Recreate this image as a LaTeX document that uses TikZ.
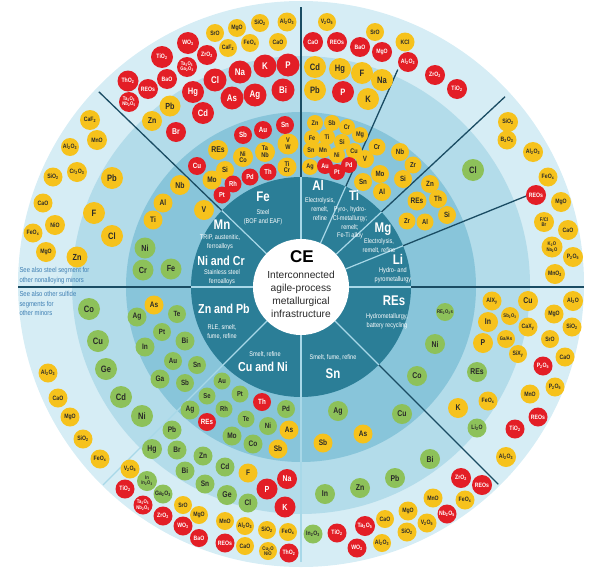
\documentclass[tikz,border=0pt]{standalone}
\usepackage{fontspec}
\setmainfont{Liberation Sans}
\newfontfamily\narrowsf{Liberation Sans}[FakeStretch=0.82]
\usetikzlibrary{positioning}

\definecolor{gold}{HTML}{F6C21C}
\definecolor{crimson}{HTML}{E31E26}
\definecolor{leaf}{HTML}{8DC15A}
\definecolor{ink}{HTML}{2A2A2A}
\definecolor{bandout}{HTML}{D6EDF5}
\definecolor{bandlight}{HTML}{B3DCEA}
\definecolor{bandmid}{HTML}{88C5DA}
\definecolor{procring}{HTML}{2B7E97}
\definecolor{navy}{HTML}{1A4C63}
\definecolor{sky}{HTML}{A8D8E8}
\definecolor{seeblue}{HTML}{3E7FB3}

\newcommand\dn[1]{\textsubscript{#1}}

\begin{document}
\begin{tikzpicture}[x=1pt, y=-1pt,
    elem/.style={circle, inner sep=0pt, minimum size=#1pt},
    ylw/.style={elem=#1, fill=gold, text=ink},
    rdc/.style={elem=#1, fill=crimson, text=white},
    grn/.style={elem=#1, fill=leaf, text=ink},
    oxfont/.style={font=\narrowsf\bfseries\fontsize{6.3}{6.3}\selectfont},
    smalltxt/.style={font=\narrowsf\bfseries\fontsize{5.2}{5.2}\selectfont},
    twin/.style={align=center, font=\narrowsf\bfseries\fontsize{5.2}{5.4}\selectfont},
    twinbig/.style={align=center, font=\narrowsf\bfseries\fontsize{6.8}{6.8}\selectfont},
    proc/.style={text=white, font=\narrowsf\bfseries\fontsize{14}{14}\selectfont},
    procpair/.style={text=white, font=\narrowsf\bfseries\fontsize{13}{13}\selectfont},
    procnote/.style={text=white, align=center, font=\narrowsf\fontsize{6.8}{8.6}\selectfont},
    raydark/.style={draw=navy, line width=1.3pt},
    raylight/.style={draw=sky, line width=1.2pt},
    seealso/.style={text=seeblue, align=left, anchor=north west,
      font=\narrowsf\fontsize{7.2}{9.3}\selectfont}]
  \useasboundingbox (0,0) rectangle (602,570);
  \coordinate (C) at (301,287);

  % rings
  \fill[bandout] (301,284) circle[radius=283];
  \fill[bandlight] (301,285) circle[radius=229];
  \fill[bandmid] (C) circle[radius=175];
  \fill[procring] (C) circle[radius=110];

  % segment borders
  \begin{scope}[shift={(C)}]
    \foreach \a/\r in {90/280, 136/281, 180/283, 0/283, 43/279, 66/238, 22/243, 315/279}
      \draw[raydark] (-\a:110) -- (-\a:\r);
    \foreach \a/\r in {225/280, 270/275}
      \draw[raylight] (-\a:110) -- (-\a:\r);
    \foreach \a in {0, 22, 43, 66, 90, 136, 180, 225, 270, 315}
      \draw[raylight] (-\a:48) -- (-\a:110);
  \end{scope}

  % centre
  \node[circle, fill=white, minimum size=96pt, inner sep=0pt] (ce) at (C) {};
  \node[font=\bfseries\fontsize{17}{17}\selectfont, text=black] (cetitle) at (302,257) {CE};
  \node[align=center, text=ink, font=\fontsize{10.2}{13}\selectfont] (cetext) at (301,294)
    {Interconnected\\agile-process\\metallurgical\\infrastructure};

  % processes
  \node[proc] (fe) at (263,197) {Fe};
  \node[procnote] (fenote) at (263,217) {Steel\\(BOF and EAF)};
  \node[proc] (al) at (318,185) {Al};
  \node[procnote] (alnote) at (320,209) {Electrolysis,\\remelt,\\refine};
  \node[proc] (ti) at (354,195) {Ti};
  \node[procnote] (tinote) at (350,223) {Pyro-, hydro-\\Cl-metallurgy;\\remelt;\\Fe-Ti alloy};
  \node[proc] (mg) at (383,229) {Mg};
  \node[procnote] (mgnote) at (379,246) {Electrolysis,\\remelt, refine};
  \node[proc] (li) at (398,259) {Li};
  \node[procnote] (linote) at (393,275) {Hydro- and\\pyrometallurgy};
  \node[proc] (res) at (394,301) {REs};
  \node[procnote] (resnote) at (387,321) {Hydrometallurgy,\\battery recycling};
  \node[proc] (sn) at (333,374) {Sn};
  \node[procnote] (snnote) at (333,357) {Smelt, fume, refine};
  \node[procpair] (cuni) at (263,367) {Cu and Ni};
  \node[procnote] (cuninote) at (265,354) {Smelt, refine};
  \node[procpair] (znpb) at (224,309) {Zn and Pb};
  \node[procnote] (znpbnote) at (222,332) {RLE, smelt,\\fume, refine};
  \node[procpair] (nicr) at (221,261) {Ni and Cr};
  \node[procnote] (nicrnote) at (222,277) {Stainless steel\\ferroalloys};
  \node[proc] (mn) at (222,225) {Mn};
  \node[procnote] (mnnote) at (220,242) {TRIP, austenitic,\\ferroalloys};

  % notes
  \node[seealso] (steelnote) at (16,264) {See also steel segment for\\other nonalloying minors};
  \node[seealso] (sulfnote) at (16,288) {See also other sulfide\\segments for\\other minors};

  % yellow elements
  \foreach \x/\y/\sz/\lbl [count=\i] in {
    112/178/22/Pb, 94/213/22/F, 112/236/22/Cl, 77/257/21/Zn, 180/185/20/Nb,
    163/203/19/Al, 153/220/19/Ti, 204/210/20/V, 170/106/21/Pb, 152/121/20/Zn,
    218/150/20/REs, 225/170/18/Si, 212/180/19/Mo, 315/67/22/Cd, 340/69/22/Hg,
    362/73/22/F, 382/80/22/Na, 315/90/22/Pb, 368/99/22/K, 315/123/16/Zn,
    332/123/16/Sb, 347/127/16/Cr, 360/135/16/Mg, 312/138/16/Fe, 327/137/16/Ti,
    342/142/16/Si, 311/150/16/Sn, 323/150/16/Mn, 337/155/16/Ni, 354/151/16/Cu,
    310/167/16/Ag, 377/147/17/Cr, 400/152/18/Nb, 365/159/18/V, 380/174/18/Mo,
    363/182/18/Sn, 403/179/18/Si, 382/192/18/Al, 413/165/17/Zr, 430/184/18/Zn,
    417/201/19/REs, 438/199/18/Th, 447/215/18/Si, 407/221/17/Zr, 425/222/17/Al,
    528/301/20/Cu, 488/322/20/In, 483/343/20/P, 458/408/20/K, 323/443/19/Sb,
    363/434/19/As, 289/430/19/As, 278/449/19/Sb, 248/473/19/F, 154/305/19/As} {
    \pgfmathsetmacro\fs{0.42*\sz}
    \node[ylw=\sz, font=\narrowsf\bfseries\fontsize{\fs}{\fs}\selectfont] (ym\i) at (\x,\y) {\lbl};
  }
  \foreach \x/\y/\sz/\lbl [count=\i] in {
    90/120/20/CaF\dn2, 97/140/20/MnO, 70/147/18/Al\dn2O\dn3, 53/177/19/SiO\dn2,
    77/172/20/Cr\dn2O\dn3, 43/203/19/CaO, 55/225/20/NiO, 33/233/19/FeO\dn{x},
    46/252/20/MgO, 215/33/18/SrO, 237/28/18/MgO, 260/23/18/SiO\dn2,
    287/22/19/Al\dn2O\dn3, 228/48/18/CaF\dn2, 250/43/18/FeO\dn{x}, 278/42/18/CaO,
    327/22/18/V\dn2O\dn5, 375/32/18/SrO, 405/42/19/KCl, 508/122/20/SiO\dn2,
    507/140/19/B\dn2O\dn3, 533/152/20/Al\dn2O\dn3, 548/177/19/FeO\dn{x}, 561/202/20/MgO,
    568/230/20/CaO, 573/257/20/P\dn2O\dn5, 555/274/20/MnO\dn2, 492/301/19/AlX\dn{y},
    573/301/20/Al\dn2O, 554/314/19/MgO, 572/327/19/SiO\dn2, 528/327/19/CaX\dn{y},
    550/339/18/SrO, 518/354/18/SiX\dn{y}, 565/357/19/CaO, 555/387/19/P\dn2O\dn5,
    530/394/19/MnO, 488/401/19/FeO\dn{x}, 506/457/20/Al\dn2O\dn3, 385/519/18/CaO,
    382/543/18/Al\dn2O\dn3, 408/511/19/MgO, 407/532/19/SiO\dn2, 427/523/19/V\dn2O\dn5,
    433/498/19/MnO, 465/500/19/FeO\dn{x}, 130/469/19/V\dn2O\dn5, 183/505/18/SrO,
    199/515/18/MgO, 225/521/18/MnO, 245/526/18/Al\dn2O\dn3, 267/530/18/SiO\dn2,
    288/532/18/FeO\dn{x}, 245/546/18/CaO, 48/373/19/Al\dn2O\dn3, 58/398/19/CaO,
    70/417/19/MgO, 83/439/19/SiO\dn2, 100/459/19/FeO\dn{x}}
    \node[ylw=\sz, oxfont] (yo\i) at (\x,\y) {\lbl};
  \node[ylw=18, smalltxt] (sbox) at (510,316) {Sb\dn2O\dn3};
  \node[ylw=18, smalltxt] (gaas) at (506,339) {Ga/As};
  \node[ylw=21, twinbig] (vw) at (288,144) {V\\W};
  \node[ylw=20, twinbig] (nico) at (243,157) {Ni\\Co};
  \node[ylw=20, twinbig] (tanb) at (265,152) {Ta\\Nb};
  \node[ylw=19, twinbig] (ticr) at (287,167) {Ti\\Cr};
  \node[ylw=20, twin] (fclbr) at (544,222) {F/Cl\\Br};
  \node[ylw=21, twin] (kna) at (552,247) {K\dn2O\\Na\dn2O};
  \node[ylw=18, twin] (cuni2o) at (268,551) {Cu\dn2O\\NiO};

  % red elements
  \foreach \x/\y/\sz/\lbl [count=\i] in {
    193/92/22/Hg, 203/113/22/Cd, 176/132/20/Br, 240/72/23/Na, 265/66/23/K,
    288/65/23/P, 215/80/23/Cl, 232/98/23/As, 255/95/23/Ag, 283/90/23/Bi,
    243/135/18/Sb, 263/130/18/Au, 285/125/18/Sn, 197/166/18/Cu, 250/177/17/Pd,
    268/172/17/Th, 233/184/17/Rh, 222/195/17/Pt, 343/92/22/P, 325/166/16/Au,
    337/172/16/Pt, 349/165/16/Pd, 287/479/20/Na, 267/489/21/P, 285/507/21/K,
    262/402/18/Th, 207/422/18/REs} {
    \pgfmathsetmacro\fs{0.42*\sz}
    \node[rdc=\sz, font=\narrowsf\bfseries\fontsize{\fs}{\fs}\selectfont] (rm\i) at (\x,\y) {\lbl};
  }
  \foreach \x/\y/\sz/\lbl [count=\i] in {
    188/43/22/WO\dn3, 162/57/22/TiO\dn2, 207/55/20/ZrO\dn2, 128/81/21/ThO\dn2,
    148/89/20/REOs, 167/79/20/BaO, 313/42/20/CaO, 337/42/20/REOs, 360/47/20/BaO,
    382/52/20/MgO, 408/62/20/Al\dn2O\dn3, 435/75/20/ZrO\dn2, 457/89/20/TiO\dn2,
    536/195/20/REOs, 543/366/19/P\dn2O\dn5, 538/417/19/REOs, 515/429/19/TiO\dn2,
    461/478/20/ZrO\dn2, 482/485/20/REOs, 447/514/19/Nb\dn2O\dn5, 337/533/19/TiO\dn2,
    365/526/20/Ta\dn2O\dn5, 357/548/19/WO\dn3, 289/553/19/ThO\dn2, 225/543/19/REOs,
    199/538/18/BaO, 183/526/19/WO\dn3, 163/516/19/ZrO\dn2, 125/489/19/TiO\dn2}
    \node[rdc=\sz, oxfont] (ro\i) at (\x,\y) {\lbl};
  \node[rdc=20, twin] (tagao) at (187,67) {Ta\dn2O\dn5\\Ga\dn2O\dn3};
  \node[rdc=20, twin] (tanbo) at (129,102) {Ta\dn2O\dn5\\Nb\dn2O\dn5};
  \node[rdc=19, twin] (tanbo2) at (143,505) {Ta\dn2O\dn5\\Nb\dn2O\dn5};

  % green elements
  \foreach \x/\y/\sz/\lbl [count=\i] in {
    145/248/21/Ni, 143/270/21/Cr, 171/269/21/Fe, 473/170/22/Cl, 89/309/22/Co,
    98/341/22/Cu, 106/369/22/Ge, 121/397/22/Cd, 142/416/22/Ni, 137/317/19/Ag,
    177/314/18/Te, 162/332/18/Pt, 185/341/19/Bi, 145/347/19/In, 173/361/18/Au,
    197/365/18/Sn, 160/379/19/Ga, 185/383/18/Sb, 190/410/19/Ag, 222/381/17/Au,
    207/396/17/Se, 240/394/17/Pt, 224/409/17/Rh, 286/409/18/Pd, 246/419/17/Te,
    268/426/18/Ni, 232/436/19/Mo, 253/444/19/Co, 172/430/19/Pb, 152/449/20/Hg,
    177/450/19/Br, 185/471/19/Bi, 203/456/19/Zn, 225/467/19/Cd, 205/484/19/Sn,
    227/495/20/Ge, 248/503/19/Cl, 338/411/20/Ag, 402/414/20/Cu, 325/494/20/In,
    360/488/20/Zn, 395/478/20/Pb, 430/459/20/Bi, 435/344/20/Ni, 417/376/20/Co,
    477/372/20/REs} {
    \pgfmathsetmacro\fs{0.42*\sz}
    \node[grn=\sz, font=\narrowsf\bfseries\fontsize{\fs}{\fs}\selectfont] (gm\i) at (\x,\y) {\lbl};
  }
  \foreach \x/\y/\sz/\lbl [count=\i] in {
    163/494/19/Ga\dn2O\dn3, 313/534/19/In\dn2O\dn3, 477/428/19/Li\dn2O}
    \node[grn=\sz, oxfont] (go\i) at (\x,\y) {\lbl};
  \node[grn=18, smalltxt] (reox) at (445,312) {RE\dn2O\dn3s};
  \node[grn=20, twin] (inox) at (147,481) {In\\In\dn2O\dn3};
\end{tikzpicture}
\end{document}
